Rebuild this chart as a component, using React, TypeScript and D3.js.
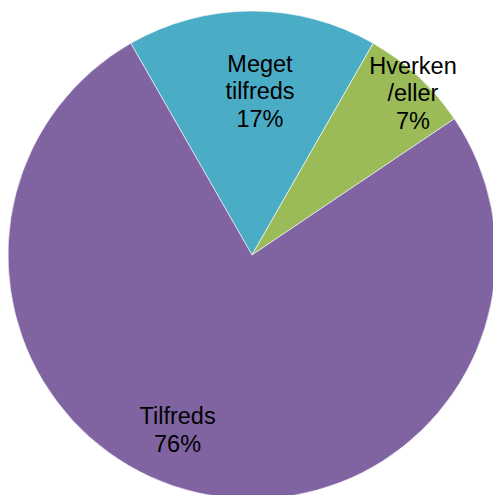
import React from "react";
import * as d3 from "d3";

const categories = ["Meget tilfreds", "Hverken/eller", "Tilfreds"];
const values = [16.55, 7.3, 76.15];
const pctLabels = ["17%", "7%", "76%"];
const labelLines = [["Meget", "tilfreds"], ["Hverken", "/eller"], ["Tilfreds"]];
const colors = ["#4BACC6", "#9BBB59", "#8064A2"];

const W = 493;
const H = 495;
const cx = 252;
const cy = 255;
const R = 244;
const startDeg = -29.8;

// label placement: radius fraction and angle offset (deg) from slice mid-angle
const labelRadiusFrac = [0.671, 0.936, 0.78];
const labelAngleOffset = [2.8, 1.9, 9.9];

export default function App() {
  const data = categories.map((c, i) => ({ c, v: values[i], i }));
  const pie = d3
    .pie<any>()
    .sort(null)
    .value((d) => d.v)
    .startAngle((startDeg * Math.PI) / 180)
    .endAngle((startDeg * Math.PI) / 180 + 2 * Math.PI);
  const arcs = pie(data);
  const arc = d3.arc<any>().innerRadius(0).outerRadius(R);
  const lineH = 27.5;

  return (
    <svg
      width={W}
      height={H}
      style={{ position: "absolute", left: 0, top: 0, background: "#fff" }}
      fontFamily="'Liberation Sans', Arial, sans-serif"
    >
      <g transform={`translate(${cx},${cy})`}>
        {arcs.map((a, i) => (
          <path key={i} d={arc(a) as string} fill={colors[i]} stroke="#fff" strokeWidth={0.6} />
        ))}
        {arcs.map((a, i) => {
          const mid = (a.startAngle + a.endAngle) / 2 + (labelAngleOffset[i] * Math.PI) / 180;
          const r = R * labelRadiusFrac[i];
          const x = Math.sin(mid) * r;
          const y = -Math.cos(mid) * r;
          const lines = [...labelLines[i], pctLabels[i]];
          const n = lines.length;
          return (
            <text key={i} textAnchor="middle" fontSize={23.5} fill="#000">
              {lines.map((t, j) => (
                <tspan key={j} x={x} y={y + (j - (n - 1) / 2) * lineH + 8}>
                  {t}
                </tspan>
              ))}
            </text>
          );
        })}
      </g>
    </svg>
  );
}
